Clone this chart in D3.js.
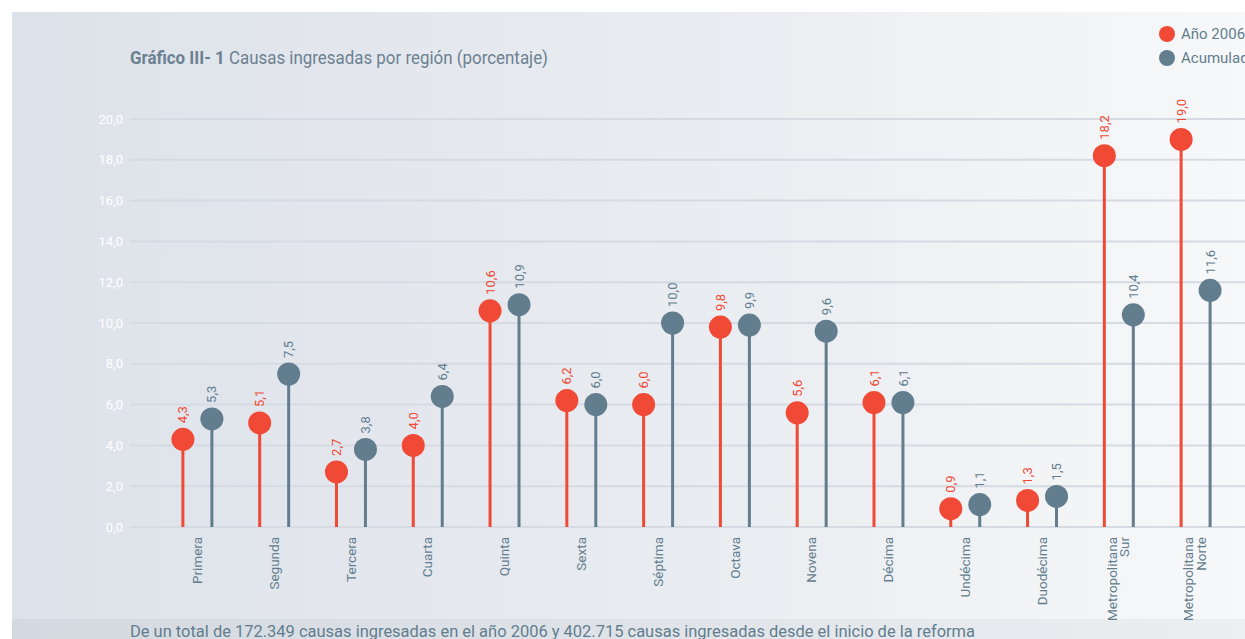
<!DOCTYPE html>
<html>
<head>
<meta charset="utf-8">
<script src="https://cdn.jsdelivr.net/npm/d3@7"></script>
<style>
  html, body { margin: 0; padding: 0; background: #fff; }
  svg { display: block; }
  text { font-family: "Liberation Sans Narrow", "Roboto", sans-serif; }
</style>
</head>
<body>
<div id="chart"></div>
<script>
// Data
const regions = ["Primera", "Segunda", "Tercera", "Cuarta", "Quinta", "Sexta", "Séptima",
  "Octava", "Novena", "Décima", "Undécima", "Duodécima", "Metropolitana|Sur", "Metropolitana|Norte"];
const anio2006 = [4.3, 5.1, 2.7, 4.0, 10.6, 6.2, 6.0, 9.8, 5.6, 6.1, 0.9, 1.3, 18.2, 19.0];
const acumulado = [5.3, 7.5, 3.8, 6.4, 10.9, 6.0, 10.0, 9.9, 9.6, 6.1, 1.1, 1.5, 10.4, 11.6];
const yTicks = [0, 2, 4, 6, 8, 10, 12, 14, 16, 18, 20];
const seriesNames = ["Año 2006", "Acumulado"];

const colorRed = "#f04a36";
const colorGray = "#627d8e";
const width = 1245, height = 639;

const svg = d3.select("#chart").append("svg")
  .attr("width", width)
  .attr("height", height);

// background panel gradient
const defs = svg.append("defs");
const grad = defs.append("linearGradient").attr("id", "bg").attr("x1", 0).attr("x2", 1).attr("y1", 0).attr("y2", 0);
grad.append("stop").attr("offset", "0%").attr("stop-color", "#dde2ea");
grad.append("stop").attr("offset", "55%").attr("stop-color", "#e9ecf0");
grad.append("stop").attr("offset", "100%").attr("stop-color", "#f7f8f9");
const grad2 = defs.append("linearGradient").attr("id", "foot").attr("x1", 0).attr("x2", 1).attr("y1", 0).attr("y2", 0);
grad2.append("stop").attr("offset", "0%").attr("stop-color", "#d3d9e0");
grad2.append("stop").attr("offset", "100%").attr("stop-color", "#eceef1");

svg.append("rect").attr("x", 12).attr("y", 12).attr("width", width - 12).attr("height", height - 12).attr("fill", "url(#bg)");
svg.append("rect").attr("x", 12).attr("y", 619).attr("width", width - 12).attr("height", 20).attr("fill", "url(#foot)");

// scales
const x0 = d3.scaleBand().domain(regions).range([159, 1234]);
const x1 = d3.scaleBand().domain(seriesNames).range([0, x0.bandwidth()]).paddingInner(0.25).paddingOuter(0.45);
const y = d3.scaleLinear().domain([0, 20]).range([527, 119]);

// gridlines + y labels
const grid = svg.append("g");
grid.selectAll("line").data(yTicks).enter().append("line")
  .attr("x1", 130).attr("x2", width)
  .attr("y1", d => y(d)).attr("y2", d => y(d))
  .attr("stroke", "#d5dae3").attr("stroke-width", 2);
grid.selectAll("text").data(yTicks).enter().append("text")
  .attr("x", 123).attr("y", d => y(d)).attr("dy", "0.35em")
  .attr("text-anchor", "end")
  .attr("fill", "#ffffff").attr("font-size", 13)
  .text(d => d3.format(".1f")(d).replace(".", ","));

// title
const title = svg.append("text").attr("x", 130).attr("y", 64).attr("font-size", 18.5).attr("fill", "#6b8191")
  .attr("textLength", 418).attr("lengthAdjust", "spacingAndGlyphs");
title.append("tspan").attr("font-weight", "bold").text("Gráfico III- 1");
title.append("tspan").text(" Causas ingresadas por región (porcentaje)");

// legend (text runs past the right edge, as in the original)
const legend = svg.append("g");
seriesNames.forEach((name, i) => {
  legend.append("circle").attr("cx", 1167).attr("cy", 34 + i * 24).attr("r", 8)
    .attr("fill", i === 0 ? colorRed : colorGray);
  legend.append("text").attr("x", 1181).attr("y", 34 + i * 24).attr("dy", "0.35em")
    .attr("font-size", 15).attr("fill", colorGray).text(name);
});

// lollipops
const series = [anio2006, acumulado];
const groups = svg.selectAll(".region").data(regions).enter().append("g")
  .attr("class", "region")
  .attr("transform", d => `translate(${x0(d)},0)`);

series.forEach((vals, s) => {
  const color = s === 0 ? colorRed : colorGray;
  const cx = x1(seriesNames[s]) + x1.bandwidth() / 2;
  groups.append("line")
    .attr("x1", cx).attr("x2", cx)
    .attr("y1", y(0)).attr("y2", (d, i) => y(vals[i]))
    .attr("stroke", color).attr("stroke-width", 3);
  groups.append("circle")
    .attr("cx", cx).attr("cy", (d, i) => y(vals[i]))
    .attr("r", 11.5).attr("fill", color);
  groups.append("text")
    .attr("transform", (d, i) => `translate(${cx},${y(vals[i]) - 16}) rotate(-90)`)
    .attr("dy", "0.35em")
    .attr("font-size", 13).attr("fill", color)
    .text((d, i) => d3.format(".1f")(vals[i]).replace(".", ","));
});

// category labels
groups.each(function(d) {
  const lines = d.split("|");
  const g = d3.select(this);
  const cx = x0.bandwidth() / 2;
  const t = g.append("text")
    .attr("transform", `translate(${cx + (lines.length - 1) * -7},537) rotate(-90)`)
    .attr("text-anchor", "end")
    .attr("font-size", 13.5).attr("fill", colorGray);
  lines.forEach((l, j) => {
    t.append("tspan").attr("x", 0).attr("dy", j === 0 ? "0.35em" : "0.95em").text(l);
  });
});

// footer note
svg.append("text").attr("x", 130).attr("y", 637)
  .attr("font-size", 16.5).attr("fill", colorGray)
  .attr("textLength", 845).attr("lengthAdjust", "spacingAndGlyphs")
  .text("De un total de 172.349 causas ingresadas en el año 2006 y 402.715 causas ingresadas desde el inicio de la reforma");
</script>
</body>
</html>
